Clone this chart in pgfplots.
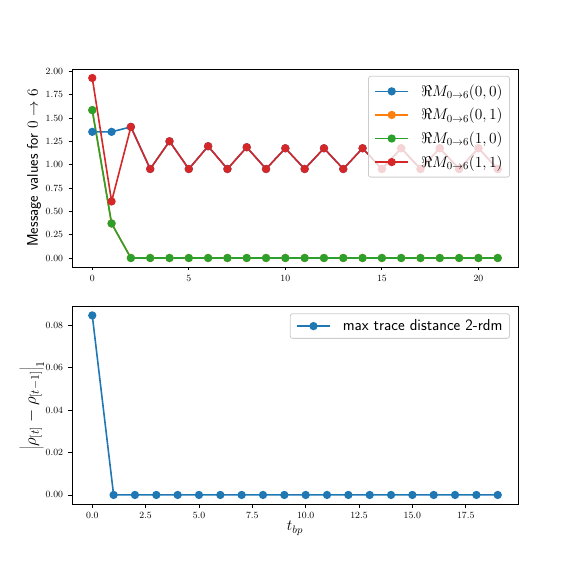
\RequirePackage{fix-cm}
\documentclass[border=0pt]{standalone}
\usepackage{pgfplots}
\pgfplotsset{compat=1.18}

\definecolor{tabblue}{HTML}{1F77B4}
\definecolor{taborange}{HTML}{FF7F0E}
\definecolor{tabgreen}{HTML}{2CA02C}
\definecolor{tabred}{HTML}{D62728}

\newcommand{\lblfont}{\fontsize{15.5}{18}\selectfont}

\pgfplotsset{
  mplstyle/.style={
    scale only axis,
    width=446bp, height=198bp,
    axis line style={line width=0.8bp},
    tick align=outside,
    tick pos=left,
    major tick length=3.5bp,
    every tick/.style={black, line width=0.8bp},
    ticklabel style={font=\fontsize{9.5}{11}\selectfont},
    xticklabel style={yshift=-1bp},
    yticklabel style={xshift=-2bp},
    scaled ticks=false,
    legend cell align=left,
    legend style={
      font=\lblfont,
      fill=white, fill opacity=0.8, draw opacity=1, text opacity=1,
      draw=black!20, line width=0.8bp, rounded corners=2.5bp,
      inner xsep=6bp, inner ysep=4bp, row sep=6.5bp, column sep=11bp,
      nodes={inner xsep=1bp, inner ysep=2bp},
    },
    legend image code/.code={
      \draw[mark repeat=2, mark phase=2, #1, line width=1.6bp, fill opacity=1, rounded corners=0pt]
        plot coordinates {(0bp,0bp) (16.5bp,0bp) (33bp,0bp)};
    },
    every axis plot/.append style={line width=1.6bp, mark=*, mark size=3.3bp},
  },
}

\begin{document}
\begin{tikzpicture}
\useasboundingbox (0,0) rectangle (576bp,576bp);

% top panel: message values
\begin{axis}[
  mplstyle,
  at={(72bp,309bp)}, anchor=south west,
  xmin=-1.05, xmax=22.05,
  ymin=-0.0965, ymax=2.0255,
  xtick={0,5,10,15,20},
  ytick={0,0.25,0.5,0.75,1,1.25,1.5,1.75,2},
  yticklabel style={/pgf/number format/.cd, fixed, fixed zerofill, precision=2},
  ylabel={\sffamily Message values for $0\to 6$},
  ylabel style={font=\lblfont, at={(axis description cs:-0.085,0.5)}, anchor=center},
  legend style={at={(0.982,0.965)}, anchor=north east, inner ysep=6.5bp},
]
\addplot[tabblue, mark options={fill=tabblue}] coordinates {
  (0,1.352) (1,1.352) (2,1.405) (3,0.954) (4,1.251) (5,0.954) (6,1.198) (7,0.954)
  (8,1.187) (9,0.954) (10,1.176) (11,0.954) (12,1.176) (13,0.954) (14,1.176)
  (15,0.954) (16,1.176) (17,0.954) (18,1.176) (19,0.954) (20,1.176) (21,0.954)
};
\addlegendentry{$\Re M_{0\to 6}(0,0)$}
\addplot[taborange, mark options={fill=taborange}] coordinates {
  (0,1.585) (1,0.37) (2,0) (3,0) (4,0) (5,0) (6,0) (7,0) (8,0) (9,0) (10,0)
  (11,0) (12,0) (13,0) (14,0) (15,0) (16,0) (17,0) (18,0) (19,0) (20,0) (21,0)
};
\addlegendentry{$\Re M_{0\to 6}(0,1)$}
\addplot[tabgreen, mark options={fill=tabgreen}] coordinates {
  (0,1.585) (1,0.37) (2,0) (3,0) (4,0) (5,0) (6,0) (7,0) (8,0) (9,0) (10,0)
  (11,0) (12,0) (13,0) (14,0) (15,0) (16,0) (17,0) (18,0) (19,0) (20,0) (21,0)
};
\addlegendentry{$\Re M_{0\to 6}(1,0)$}
\addplot[tabred, mark options={fill=tabred}] coordinates {
  (0,1.929) (1,0.606) (2,1.405) (3,0.954) (4,1.251) (5,0.954) (6,1.198) (7,0.954)
  (8,1.187) (9,0.954) (10,1.176) (11,0.954) (12,1.176) (13,0.954) (14,1.176)
  (15,0.954) (16,1.176) (17,0.954) (18,1.176) (19,0.954) (20,1.176) (21,0.954)
};
\addlegendentry{$\Re M_{0\to 6}(1,1)$}
\end{axis}

% bottom panel: trace distance
\begin{axis}[
  mplstyle,
  at={(72bp,71.5bp)}, anchor=south west,
  xmin=-0.95, xmax=19.95,
  ymin=-0.0045, ymax=0.0888,
  xtick={0,2.5,5,7.5,10,12.5,15,17.5},
  xticklabel style={/pgf/number format/.cd, fixed, fixed zerofill, precision=1},
  ytick={0,0.02,0.04,0.06,0.08},
  yticklabel style={/pgf/number format/.cd, fixed, fixed zerofill, precision=2},
  xlabel={$t_{bp}$},
  xlabel style={font=\lblfont, at={(axis description cs:0.5,-0.12)}, anchor=center},
  ylabel={$\left|\rho_{[t]}-\rho_{[t-1]}\right|_1$},
  ylabel style={font=\fontsize{17}{20}\selectfont, at={(axis description cs:-0.09,0.5)}, anchor=center},
  legend style={at={(0.982,0.965)}, anchor=north east, font=\fontsize{16}{19}\selectfont},
]
\addplot[tabblue, mark options={fill=tabblue}] coordinates {
  (0,0.0846) (1,0) (2,0) (3,0) (4,0) (5,0) (6,0) (7,0) (8,0) (9,0) (10,0)
  (11,0) (12,0) (13,0) (14,0) (15,0) (16,0) (17,0) (18,0) (19,0)
};
\addlegendentry{\sffamily max trace distance 2-rdm}
\end{axis}
\end{tikzpicture}
\end{document}
